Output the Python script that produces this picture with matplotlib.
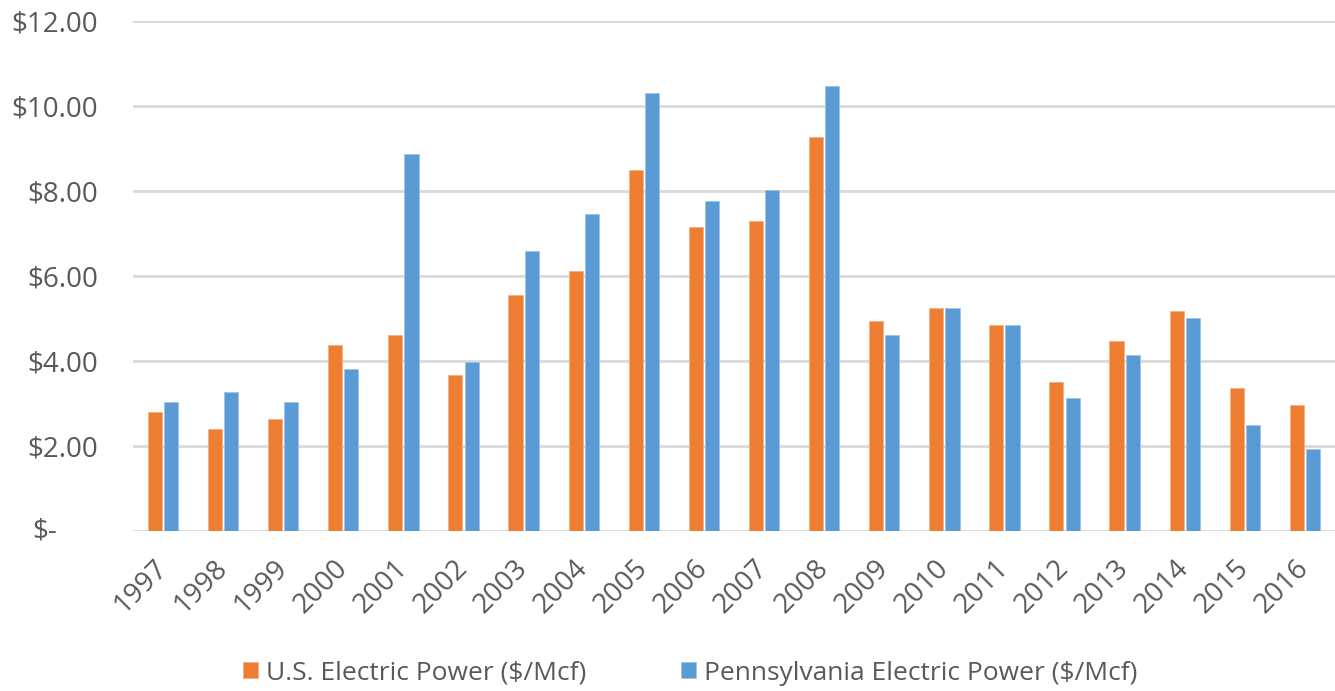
#Bar chart of electric power natural gas prices, U.S. vs Pennsylvania
import numpy as np
from matplotlib import pyplot as plt
from matplotlib import transforms

plt.rcParams['font.family'] = ['Open Sans', 'DejaVu Sans']

years = ['1997', '1998', '1999', '2000', '2001', '2002', '2003', '2004', '2005', '2006',
         '2007', '2008', '2009', '2010', '2011', '2012', '2013', '2014', '2015', '2016']
us_price = [2.79, 2.40, 2.64, 4.38, 4.61, 3.66, 5.56, 6.12, 8.49, 7.15,
            7.29, 9.27, 4.93, 5.25, 4.85, 3.51, 4.46, 5.17, 3.36, 2.96]
pa_price = [3.03, 3.26, 3.03, 3.82, 8.88, 3.98, 6.59, 7.46, 10.30, 7.77,
            8.02, 10.46, 4.61, 5.25, 4.85, 3.12, 4.14, 5.01, 2.49, 1.93]
y_ticks = [0, 2, 4, 6, 8, 10, 12]
y_labels = ['', '$2.00', '$4.00', '$6.00', '$8.00', '$10.00', '$12.00']

orange = '#ED7D31'
blue = '#5B9BD5'
text_color = '#595959'
grid_color = '#D9D9D9'
fs = 20

fig = plt.figure(figsize=(13.35, 6.91), dpi=100)
ax = fig.add_axes([0.0996, 0.2315, 0.9004, 0.7381])

x = np.arange(len(years))
w = 0.235
ax.bar(x - 0.135, us_price, w, color=orange, edgecolor='#F4B183', linewidth=0.6,
       label='U.S. Electric Power ($/Mcf)', zorder=3)
ax.bar(x + 0.135, pa_price, w, color=blue, edgecolor='#9DC3E6', linewidth=0.6,
       label='Pennsylvania Electric Power ($/Mcf)', zorder=3)

ax.set_xlim(-0.5, len(years) - 0.5)
ax.set_ylim(0, 12)
ax.set_yticks(y_ticks)
ax.set_yticklabels(y_labels)
ax.set_xticks(x)
ax.set_xticklabels(years, rotation=45, ha='right', va='center', rotation_mode='anchor')

# zero label in accounting style sits centered
ax.text(-0.0732, 0, '$-', transform=transforms.blended_transform_factory(ax.transAxes, ax.transData),
        ha='center', va='center', fontsize=fs, color=text_color)

ax.grid(axis='y', color=grid_color, linewidth=2, zorder=0)
ax.tick_params(axis='y', length=0, pad=25, labelsize=fs, labelcolor=text_color)
ax.tick_params(axis='x', length=0, pad=24, labelsize=fs, labelcolor=text_color)
for s in ax.spines.values():
    s.set_visible(False)

fig.legend(loc='center', bbox_to_anchor=(0.517, 0.026), ncol=2, frameon=False,
           fontsize=19, labelcolor=text_color, handlelength=0.55, handleheight=0.55,
           handletextpad=0.3, columnspacing=3.6, borderaxespad=0)

fig.savefig('out.png', dpi=100)
